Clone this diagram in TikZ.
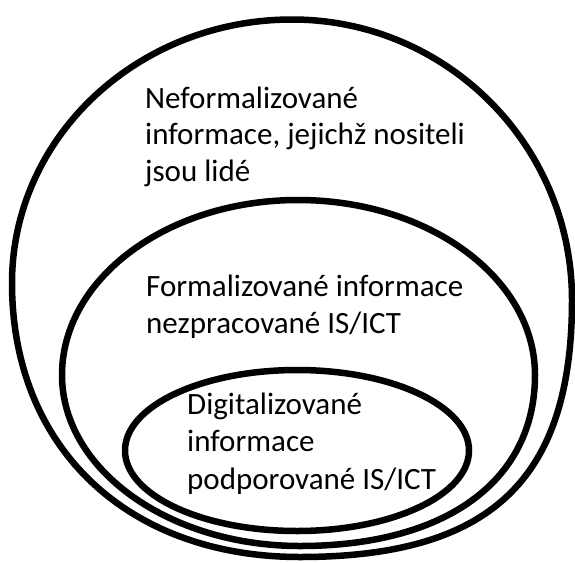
\documentclass[tikz,border=0pt]{standalone}
\usepackage{fontspec}
\setmainfont{Carlito}
\begin{document}
\begin{tikzpicture}[x=1pt,y=-1pt,
  ring/.style={draw=black,line width=6.5pt,line join=round},
  caption/.style={anchor=north west,inner sep=0pt,align=left,
    font=\fontsize{31}{36.5}\selectfont}]
\useasboundingbox (0,0) rectangle (575,562);
% outer set: hand-drawn oval, fuller in its lower half
\coordinate (oT) at (292,19.5);
\coordinate (oL) at (12,283);
\coordinate (oB) at (300,557);
\coordinate (oR) at (572,300);
\draw[ring] (oT) .. controls (137.4,19.5) and (12,137.5) .. (oL)
  .. controls (12,447.4) and (127.2,557) .. (oB)
  .. controls (490.4,557) and (572,479.9) .. (oR)
  .. controls (572,145.1) and (446.6,19.5) .. cycle;
% middle set
\coordinate (mT) at (298,200);
\coordinate (mL) at (62,375);
\coordinate (mB) at (300,546);
\coordinate (mR) at (535,375);
\draw[ring] (mT) .. controls (167.7,200) and (62,278.3) .. (mL)
  .. controls (62,469.4) and (168.6,546) .. (mB)
  .. controls (445.7,546) and (535,481) .. (mR)
  .. controls (535,278.3) and (428.9,200) .. cycle;
% inner set
\draw[ring] (297,450.5) ellipse [x radius=172,y radius=80.5] coordinate (inner);
% labels
\node[caption] (lblouter) at (145,86.5) {Neformalizované\\informace, jejichž nositeli\\jsou lidé};
\node[caption,font=\fontsize{31}{37}\selectfont] (lblmiddle) at (146,274.5) {Formalizované informace\\nezpracované IS/ICT};
\node[caption,font=\fontsize{31}{37.5}\selectfont] (lblinner) at (187,392.5) {Digitalizované\\informace\\podporované IS/ICT};
\end{tikzpicture}
\end{document}
